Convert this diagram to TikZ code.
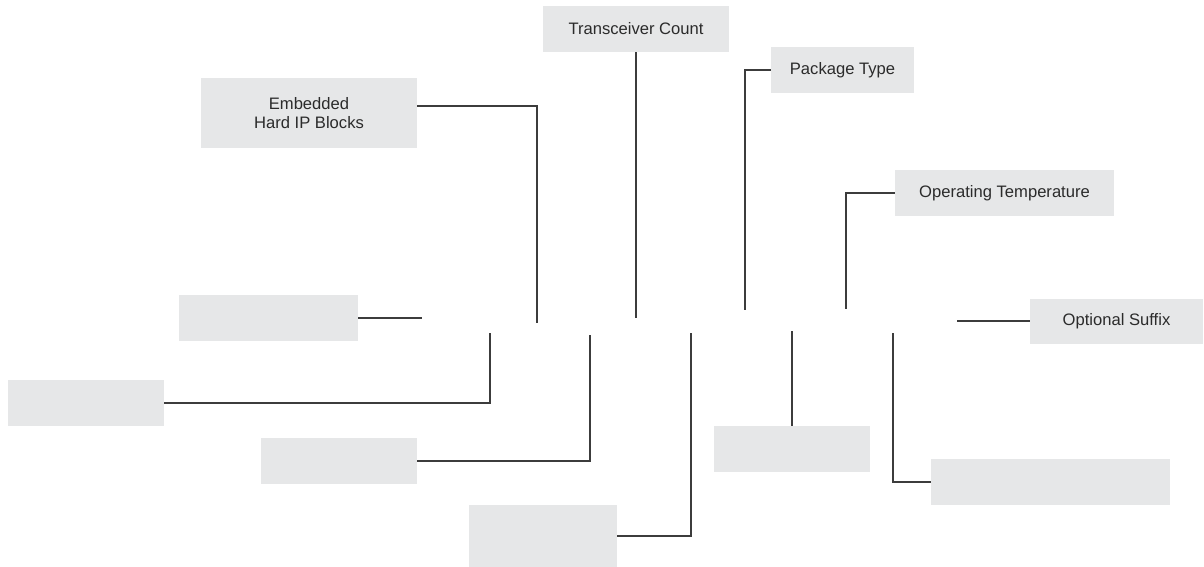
\documentclass[tikz,border=0pt]{standalone}
\usepackage{fontspec}
\setmainfont{Liberation Sans}
\begin{document}
\begin{tikzpicture}[x=1pt,y=-1pt,
  field/.style={fill=fieldgray,draw=none,inner sep=0pt,align=center,
    font=\fontsize{16.6}{19.5}\selectfont,text=labeltext},
  lead/.style={draw=leadgray,line width=1.1pt}]
\definecolor{fieldgray}{HTML}{E6E7E8}
\definecolor{leadgray}{HTML}{3C3C3C}
\definecolor{labeltext}{HTML}{2B2B2B}
\useasboundingbox (0,0) rectangle (1204,567);

% labelled fields above the part number
\node[field,minimum width=186pt,minimum height=46pt] (tc) at (636,29) {Transceiver Count};
\node[field,minimum width=216pt,minimum height=70pt] (eh) at (309,113) {Embedded\\Hard IP Blocks};
\node[field,minimum width=143pt,minimum height=46pt] (pt) at (842.5,70) {Package Type};
\node[field,minimum width=219pt,minimum height=46pt] (ot) at (1004.5,193) {Operating Temperature};
\node[field,minimum width=173pt,minimum height=45pt] (os) at (1116.5,321) {Optional Suffix};

% blank fields
\node[field,minimum width=179pt,minimum height=46pt] (b1) at (268.5,318) {};
\node[field,minimum width=156pt,minimum height=46pt] (b2) at (86,403) {};
\node[field,minimum width=156pt,minimum height=46pt] (b3) at (339,461) {};
\node[field,minimum width=148pt,minimum height=62pt] (b4) at (543,536) {};
\node[field,minimum width=156pt,minimum height=46pt] (b5) at (792,449) {};
\node[field,minimum width=239pt,minimum height=46pt] (b6) at (1050.5,482) {};

% free ends of the leader lines, next to the part number characters
\coordinate (eb1) at (422,318);
\coordinate (eeh) at (537,323);
\coordinate (etc) at (636,318);
\coordinate (ept) at (745,310);
\coordinate (eot) at (846,309);
\coordinate (eos) at (957,321);
\coordinate (eb2) at (490,333);
\coordinate (eb3) at (590,335);
\coordinate (eb4) at (691,333);
\coordinate (eb5) at (792,331);
\coordinate (eb6) at (893,333);

% leader lines
\draw[lead] (b1.east) -- (eb1);
\draw[lead] ([yshift=7pt]eh.east) -| (eeh);
\draw[lead] (tc.south) -- (etc);
\draw[lead] (pt.west) -| (ept);
\draw[lead] (ot.west) -| (eot);
\draw[lead] (os.west) -- (eos);
\draw[lead] (b2.east) -| (eb2);
\draw[lead] (b3.east) -| (eb3);
\draw[lead] (b4.east) -| (eb4);
\draw[lead] (b5.north) -- (eb5);
\draw[lead] (b6.west) -| (eb6);
\end{tikzpicture}
\end{document}
